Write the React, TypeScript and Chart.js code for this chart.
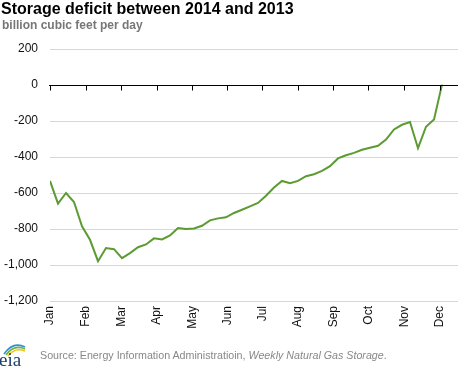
import React, { useEffect, useRef } from "react";
import { Chart, registerables } from "chart.js";

Chart.register(...registerables);

const monthLabels = ["Jan", "Feb", "Mar", "Apr", "May", "Jun", "Jul", "Aug", "Sep", "Oct", "Nov", "Dec"];
const monthTickWeeks = [0, 4.5, 8.9, 13.35, 17.8, 22.15, 26.55, 30.95, 35.4, 39.8, 44.3, 48.7];
const deficitValues = [
  -533, -659, -600, -650, -785, -860, -979, -906, -912, -962,
  -934, -901, -886, -852, -858, -836, -795, -800, -797, -782,
  -752, -741, -735, -711, -693, -674, -655, -615, -570, -533,
  -546, -533, -507, -496, -477, -451, -408, -390, -377, -360,
  -349, -338, -303, -247, -221, -206, -351, -232, -191, 2,
];
const yTicks = [200, 0, -200, -400, -600, -800, -1000, -1200];

const FONT = "'Liberation Sans', Arial, sans-serif";

const zeroLinePlugin = {
  id: "zeroLine",
  afterDatasetsDraw(chart: any) {
    const { ctx, chartArea, scales } = chart;
    const y = Math.round(scales.y.getPixelForValue(0)) + 0.5;
    ctx.save();
    ctx.strokeStyle = "#000";
    ctx.lineWidth = 1;
    ctx.beginPath();
    ctx.moveTo(chartArea.left - 1, y);
    ctx.lineTo(chartArea.right, y);
    monthTickWeeks.forEach((w) => {
      const x = Math.round(scales.x.getPixelForValue(w)) + 0.5;
      ctx.moveTo(x, y);
      ctx.lineTo(x, y + 5);
    });
    ctx.stroke();
    ctx.restore();
  },
};

export default function App() {
  const ref = useRef<HTMLCanvasElement>(null);
  useEffect(() => {
    if (!ref.current) return;
    const chart = new Chart(ref.current, {
      type: "line",
      data: {
        datasets: [
          {
            data: deficitValues.map((v, i) => ({ x: i, y: v })),
            borderColor: "#5b9b32",
            borderWidth: 2,
            pointRadius: 0,
            tension: 0,
            fill: false,
          },
        ],
      },
      options: {
        animation: false,
        responsive: false,
        maintainAspectRatio: false,
        layout: { padding: { left: 0, right: 10, top: 49, bottom: 22 } },
        plugins: { legend: { display: false }, tooltip: { enabled: false } },
        scales: {
          x: {
            type: "linear",
            min: 0,
            max: 51,
            afterBuildTicks: (scale: any) => {
              scale.ticks = monthTickWeeks.map((v) => ({ value: v }));
            },
            afterFit: (scale: any) => {
              scale.height = 43;
            },
            ticks: {
              autoSkip: false,
              minRotation: 90,
              maxRotation: 90,
              padding: 5,
              color: "#111",
              font: { family: FONT, size: 12 },
              callback: (_v: any, i: number) => monthLabels[i],
            },
            grid: { display: false, drawTicks: false },
            border: { display: false },
          },
          y: {
            min: -1200,
            max: 200,
            afterBuildTicks: (scale: any) => {
              scale.ticks = yTicks.map((v) => ({ value: v }));
            },
            afterFit: (scale: any) => {
              scale.width = 50;
            },
            ticks: {
              padding: 12,
              color: "#111",
              font: { family: FONT, size: 12 },
              callback: (v: any) => Number(v).toLocaleString("en-US"),
            },
            grid: { color: "#d8d8d8", drawTicks: false },
            border: { display: false },
          },
        },
      },
      plugins: [zeroLinePlugin],
    });
    return () => chart.destroy();
  }, []);

  return (
    <div style={{ position: "absolute", left: 0, top: 0, width: 468, height: 366, background: "#fff", fontFamily: FONT, overflow: "hidden" }}>
      <canvas ref={ref} width={468} height={366} style={{ position: "absolute", left: 0, top: 0, width: 468, height: 366 }} />
      <div style={{ position: "absolute", left: 1, top: 0, fontSize: 16, fontWeight: "bold", color: "#000", whiteSpace: "nowrap" }}>
        Storage deficit between 2014 and 2013
      </div>
      <div style={{ position: "absolute", left: 2, top: 18, fontSize: 12, fontWeight: "bold", color: "#777", whiteSpace: "nowrap" }}>
        billion cubic feet per day
      </div>
      <svg style={{ position: "absolute", left: 0, top: 338 }} width={32} height={28}>
        <path d="M4 16 Q13 3 25 9" stroke="#2e8fd0" strokeWidth={1.6} fill="none" />
        <path d="M6 17 Q14 6 25 11" stroke="#6cb33f" strokeWidth={1.6} fill="none" />
        <path d="M8 18 Q15 9 25 13" stroke="#f5c218" strokeWidth={1.6} fill="none" />
        <text x={-1} y={28} fontFamily="'Liberation Serif', serif" fontSize={19} fill="#1d3e6e">eia</text>
      </svg>
      <div style={{ position: "absolute", left: 40, top: 349, fontSize: 10.7, color: "#888", whiteSpace: "nowrap" }}>
        Source: Energy Information Administratioin, <i>Weekly Natural Gas Storage</i>.
      </div>
    </div>
  );
}
